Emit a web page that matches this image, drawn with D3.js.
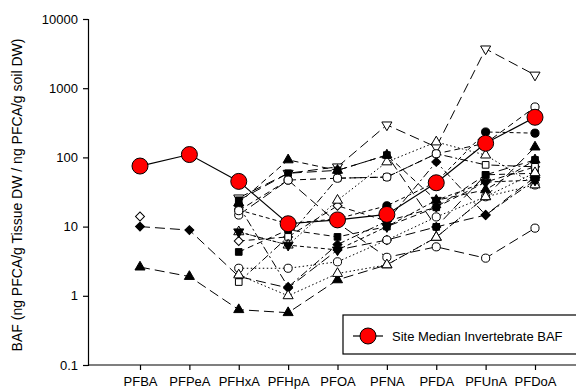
<!DOCTYPE html>
<html>
<head>
<meta charset="utf-8">
<script src="https://cdn.jsdelivr.net/npm/d3@7"></script>
<style>
  html, body { margin: 0; padding: 0; background: #fff; }
  svg { display: block; font-family: Arial, "Liberation Sans", sans-serif; }
</style>
</head>
<body>
<svg id="chart" width="576" height="392"></svg>
<script>
// PFCA chain-length categories (x axis)
const categories = ["PFBA", "PFPeA", "PFHxA", "PFHpA", "PFOA", "PFNA", "PFDA", "PFUnA", "PFDoA"];
// log-axis tick values
const yTicks = [0.1, 1, 10, 100, 1000, 10000];

// site median invertebrate BAF
const siteMedian = [75, 110, 45, 11, 12.5, 15, 43, 160, 380];

// individual sample BAFs (null = not quantified)
const s01 = [10, 8.9, 1.9, 1.3, 4.6, 6.4, 9.9, 14.7, 52];
const s02 = [2.6, 1.9, 0.63, 0.57, 1.7, 2.8, 7.0, 27, 141];
const s03 = [14, null, 6.2, 7.1, 20, 12, 19, 44, 73];
const s04 = [null, null, 2.5, 2.5, 3.1, 6.4, 13.8, 27, 40];
const s05 = [null, null, 14.7, 47, 11.3, 3.6, 5.1, 3.5, 9.5];
const s06 = [null, null, 26, 59, 73, 295, 141, 3700, 1550];
const s07 = [null, null, 17.4, 11, 13, 20, 44, 233, 224];
const s08 = [null, null, 4.3, 9, 7.1, 10, 19, 56, 59];
const s09 = [null, null, 1.58, 7.1, 50, 52, 113, 78, 73];
const s10 = [null, null, 22, 92, 65, 108, 24, 34, 92];
const s11 = [null, null, 8.4, 5.4, 24, 86, 167, 108, 40];
const s12 = [null, null, 20, 1.34, 5.5, 12, 86, 14.7, 47];
const s13 = [null, null, 2.0, 1.0, 2.1, 2.8, 7, 27, 60];
const s14 = [null, null, 24, 59, 65, 108, 9.9, 56, 92];
const s15 = [null, null, 17, 47, 50, 52, 113, 160, 535];
const s16 = [null, null, 8.4, 5.4, 4.6, 10, 24, 44, 47];

// marker + line style per sample series
const dash = { long: "10,5", med: "6,4", dot: "1.5,2.5", dashdot: "8,3,2,3", short: "4,3" };
const series = [
  { v: s01, m: "diamond", f: true,  d: dash.long },
  { v: s02, m: "triangle", f: true, d: dash.long },
  { v: s03, m: "diamond", f: false, d: dash.med },
  { v: s04, m: "circle", f: false,  d: dash.dot },
  { v: s05, m: "circle", f: false,  d: dash.long },
  { v: s06, m: "triDown", f: false, d: dash.long },
  { v: s07, m: "circle", f: true,   d: dash.short },
  { v: s08, m: "square", f: true,   d: dash.med },
  { v: s09, m: "square", f: false,  d: dash.dashdot },
  { v: s10, m: "triangle", f: true, d: dash.med },
  { v: s11, m: "triangle", f: false, d: dash.dot },
  { v: s12, m: "diamond", f: true,  d: dash.dashdot },
  { v: s13, m: "triangle", f: false, d: dash.dot },
  { v: s14, m: "square", f: true,   d: dash.long },
  { v: s15, m: "circle", f: false,  d: dash.med },
  { v: s16, m: "triDown", f: true,  d: dash.short }
];

const svg = d3.select("#chart");
svg.append("rect").attr("width", 576).attr("height", 392).attr("fill", "#fff");

const x = d3.scalePoint().domain(categories).range([140, 535]);
const y = d3.scaleLog().domain([0.1, 10000]).range([365, 19]);

// axes
const yAxis = d3.axisLeft(y).tickValues(yTicks)
  .tickFormat(d => d >= 1 ? d3.format("d")(d) : String(d))
  .tickSizeOuter(0).tickSize(5).tickPadding(5);
const gy = svg.append("g").attr("transform", "translate(88,0)").call(yAxis);
gy.select(".domain").attr("stroke", "#000").attr("stroke-width", 1.2);
gy.selectAll(".tick line").attr("stroke", "#000").attr("stroke-width", 1.2);
gy.selectAll(".tick text").attr("font-size", 13).attr("fill", "#000");

const gx = svg.append("g").attr("transform", "translate(0,365)");
gx.append("line").attr("x1", 88).attr("x2", 576).attr("stroke", "#000").attr("stroke-width", 1.2);
const xAxis = d3.axisBottom(x).tickSize(5).tickPadding(7).tickSizeOuter(0);
gx.call(xAxis);
gx.select(".domain").remove();
gx.selectAll(".tick line").attr("stroke", "#000").attr("stroke-width", 1.2);
gx.selectAll(".tick text").attr("font-size", 13).attr("fill", "#000");

svg.append("text")
  .attr("transform", "translate(22,195) rotate(-90)")
  .attr("text-anchor", "middle")
  .attr("font-size", 14)
  .attr("fill", "#000")
  .text("BAF (ng PFCA/g Tissue DW / ng PFCA/g soil DW)");

// marker shapes
function markerPath(m) {
  switch (m) {
    case "circle":   return d3.symbol(d3.symbolCircle, 52)();
    case "square":   return d3.symbol(d3.symbolSquare, 44)();
    case "diamond":  return d3.symbol(d3.symbolSquare, 40)();
    case "triangle": return d3.symbol(d3.symbolTriangle, 44)();
    case "triDown":  return d3.symbol(d3.symbolTriangle, 44)();
  }
}
function markerRot(m) {
  if (m === "diamond") return 45;
  if (m === "triDown") return 180;
  return 0;
}

const line = d3.line()
  .defined(d => d.v != null)
  .x(d => x(d.c))
  .y(d => y(d.v));

const pts = arr => categories.map((c, i) => ({ c, v: arr[i] }));

const gLines = svg.append("g");
const gMarks = svg.append("g");
series.forEach(s => {
  const p = pts(s.v);
  gLines.append("path")
    .attr("d", line(p))
    .attr("fill", "none")
    .attr("stroke", "#000")
    .attr("stroke-width", 1)
    .attr("stroke-dasharray", s.d);
  gMarks.selectAll(null)
    .data(p.filter(d => d.v != null))
    .join("path")
    .attr("d", markerPath(s.m))
    .attr("transform", d => `translate(${x(d.c)},${y(d.v)}) rotate(${markerRot(s.m)})`)
    .attr("fill", s.f ? "#000" : "#fff")
    .attr("stroke", "#000")
    .attr("stroke-width", 1);
});

// site median series
const mp = pts(siteMedian);
svg.append("path")
  .attr("d", line(mp))
  .attr("fill", "none")
  .attr("stroke", "#000")
  .attr("stroke-width", 1.2);
svg.append("g").selectAll("circle")
  .data(mp)
  .join("circle")
  .attr("cx", d => x(d.c))
  .attr("cy", d => y(d.v))
  .attr("r", 8)
  .attr("fill", "#ff0000")
  .attr("stroke", "#000")
  .attr("stroke-width", 1);

// legend
const lg = svg.append("g");
lg.append("rect")
  .attr("x", 343).attr("y", 315).attr("width", 245).attr("height", 39)
  .attr("fill", "#fff").attr("stroke", "#000").attr("stroke-width", 1.2);
lg.append("line")
  .attr("x1", 353).attr("x2", 383).attr("y1", 336).attr("y2", 336)
  .attr("stroke", "#000").attr("stroke-width", 1.2);
lg.append("circle")
  .attr("cx", 368).attr("cy", 336).attr("r", 8)
  .attr("fill", "#ff0000").attr("stroke", "#000");
lg.append("text")
  .attr("x", 392).attr("y", 341)
  .attr("font-size", 13).attr("fill", "#000")
  .text("Site Median Invertebrate BAF");
</script>
</body>
</html>
